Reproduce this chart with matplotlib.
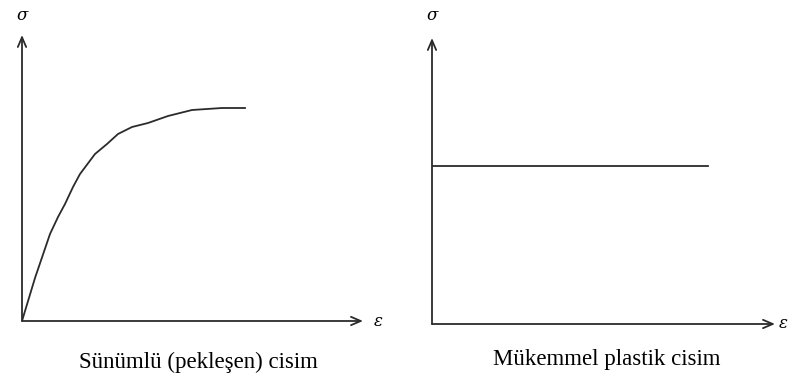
"""Stress-strain sketches: strain hardening vs perfectly plastic body."""
import matplotlib
matplotlib.use("Agg")
import matplotlib.pyplot as plt

# Left sketch: strain hardening curve (pixel-scale units from origin)
hardening_eps = [0, 13, 28, 36, 43, 51, 58, 73, 85, 96, 110, 126, 146, 170, 200, 223]
hardening_sig = [0, 43, 87, 104, 117, 134, 147, 167, 177, 187, 194, 198, 205, 211, 213, 213]

# Right sketch: perfectly plastic (flat yield line)
plastic_eps = [0, 276]
plastic_sig = [158, 158]

captions = ["Sünümlü (pekleşen) cisim", "Mükemmel plastik cisim"]

W, H = 790, 379
LINE = "#2b2b2b"

fig = plt.figure(figsize=(W / 100, H / 100), dpi=100)
fig.patch.set_facecolor("white")


def make_axes(ox, oy, xmax, ymax):
    # axes whose data units are pixels measured from the origin (ox, oy)
    ax = fig.add_axes([ox / W, (H - oy) / H, xmax / W, ymax / H])
    ax.set_xlim(0, xmax)
    ax.set_ylim(0, ymax)
    ax.axis("off")
    return ax


def draw_frame(ax, x_tip, y_tip, eps_x, sig_y):
    arrow = dict(arrowstyle="->,head_length=0.7,head_width=0.3", color=LINE, lw=1.3,
                 shrinkA=0, shrinkB=0)
    ax.annotate("", xy=(0, y_tip), xytext=(0, 0), arrowprops=arrow, annotation_clip=False)
    ax.annotate("", xy=(x_tip, 0), xytext=(0, 0), arrowprops=arrow, annotation_clip=False)
    ax.text(eps_x, 0, "ε", fontsize=12, style="italic", family="DejaVu Serif",
            ha="left", va="center", clip_on=False)
    ax.text(0, sig_y, "σ", fontsize=12, style="italic", family="DejaVu Serif",
            ha="center", va="center", clip_on=False)


axL = make_axes(22, 321, 370, 300)
draw_frame(axL, 341, 286, 352, 306)
axL.plot(hardening_eps, hardening_sig, color=LINE, lw=1.3)

axR = make_axes(432, 324, 358, 303)
draw_frame(axR, 343, 286, 347, 309)
axR.plot(plastic_eps, plastic_sig, color=LINE, lw=1.3)

fig.text(198 / W, 1 - 362 / H, captions[0], fontsize=16.5, family="Liberation Serif",
         ha="center", va="center")
fig.text(607 / W, 1 - 360 / H, captions[1], fontsize=16.5, family="Liberation Serif",
         ha="center", va="center")

fig.savefig("out.png", dpi=100, facecolor="white")
